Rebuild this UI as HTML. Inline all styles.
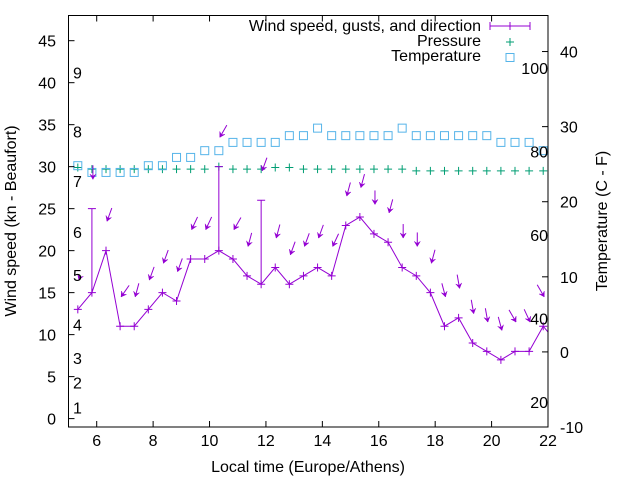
<!DOCTYPE html>
<html><head><meta charset="utf-8"><style>
body{margin:0;background:#fff}
svg{display:block;font-family:"Liberation Sans",sans-serif}
</style></head><body>
<svg id="chart" width="640" height="480" viewBox="0 0 640 480" xmlns="http://www.w3.org/2000/svg">
<rect width="640" height="480" fill="#fff"/>
<g id="g-grid"></g>
<g id="g-data"></g>
<rect x="68.5" y="15.5" width="479.5" height="411.5" fill="none" stroke="#000" stroke-width="1"/>
<g id="g-axes" font-size="16" fill="#000"></g>
<text x="16" y="221" font-size="16" text-anchor="middle" transform="rotate(-90 16 221)">Wind speed (kn - Beaufort)</text>
<text x="607" y="221" font-size="16" text-anchor="middle" transform="rotate(-90 607 221)">Temperature (C - F)</text>
<text x="308" y="472" font-size="16" text-anchor="middle">Local time (Europe/Athens)</text>
<g id="legend" font-size="16">
 <text x="481" y="31" text-anchor="end">Wind speed, gusts, and direction</text>
 <g stroke="#9400d3"><line x1="490" y1="26" x2="530" y2="26"/><line x1="490" y1="22" x2="490" y2="30"/><line x1="530" y1="22" x2="530" y2="30"/><line x1="510" y1="22" x2="510" y2="30"/></g>
 <text x="481" y="46" text-anchor="end">Pressure</text>
 <g stroke="#009e73"><line x1="506" y1="42" x2="514" y2="42"/><line x1="510" y1="38" x2="510" y2="46"/></g>
 <text x="481" y="61" text-anchor="end">Temperature</text>
 <rect x="506" y="53.5" width="8" height="8" fill="none" stroke="#56b4e9"/>
</g>
</svg>
<script>
const times=[5.33,5.83,6.33,6.83,7.33,7.83,8.33,8.83,9.33,9.83,10.33,10.83,11.33,11.83,12.33,12.83,13.33,13.83,14.33,14.83,15.33,15.83,16.33,16.83,17.33,17.83,18.33,18.83,19.33,19.83,20.33,20.83,21.33,21.83];
const windSpeed=[13,15,20,11,11,13,15,14,19,19,20,19,17,16,18,16,17,18,17,23,24,22,21,18,17,15,11,12,9,8,7,8,8,11];
const windGust=[13,25,20,11,11,13,15,14,19,19,30,19,17,26,18,16,17,18,17,23,24,22,21,18,17,15,11,12,9,8,7,8,8,11];
const windDir=[20,0,20,35,15,20,20,20,25,25,30,30,15,20,15,20,20,20,25,15,15,0,15,0,0,15,345,350,350,350,345,330,335,330];
const pressure=[29.9,29.7,29.7,29.7,29.7,29.7,29.7,29.7,29.7,29.7,30.0,29.7,29.7,29.7,29.9,29.9,29.7,29.7,29.7,29.7,29.7,29.7,29.7,29.7,29.5,29.5,29.5,29.5,29.5,29.5,29.5,29.5,29.5,29.5];
const temperature=[24.8,23.9,23.9,23.9,23.9,24.8,24.8,25.9,25.9,26.8,26.8,27.9,27.9,27.9,27.9,28.8,28.8,29.8,28.8,28.8,28.8,28.8,28.8,29.8,28.8,28.8,28.8,28.8,28.8,28.8,27.9,27.9,27.9,26.8];
const xTicks=[6,8,10,12,14,16,18,20,22];
const yTicks=[0,5,10,15,20,25,30,35,40,45];
const y2Ticks=[-10,0,10,20,30,40];
const fTicks=[20,40,60,80,100];
const beaufortLabels=["1","2","3","4","5","6","7","8","9"];
const beaufortPos=[1.3,4.3,7.2,11.2,17.1,22.2,28.3,34.2,41.2];

const X0=68.5,X1=548,Y0=427,Y1=15.5;
const xS=t=>X0+(t-5)/(22-5)*(X1-X0);
const yS=v=>Y0-(v+1)/(48-(-1))*(Y0-Y1);
const y2S=c=>Y0-(c+10)/(44.8+10)*(Y0-Y1);
const NS="http://www.w3.org/2000/svg";
function mk(tag,attrs,parent){const e=document.createElementNS(NS,tag);for(const k in attrs)e.setAttribute(k,attrs[k]);parent.appendChild(e);return e;}
const ax=document.getElementById('g-axes'),dg=document.getElementById('g-data');

xTicks.forEach(t=>{const x=xS(t);
 let l=mk('line',{x1:x,y1:Y0,x2:x,y2:Y0-6,stroke:'#000'},ax);
 
 
 l=mk('line',{x1:x,y1:Y1,x2:x,y2:Y1+6,stroke:'#000'},ax);
 
 
 const tx=mk('text',{x:x,y:446,'text-anchor':'middle'},ax);tx.textContent=t;
 
 
});
yTicks.forEach(v=>{const y=yS(v);
 const l=mk('line',{x1:X0,y1:y,x2:X0+6,y2:y,stroke:'#000'},ax);
 
 
 const tx=mk('text',{x:56,y:y+6,'text-anchor':'end'},ax);tx.textContent=v;
 
 
});
y2Ticks.forEach(v=>{const y=y2S(v);
 const l=mk('line',{x1:X1,y1:y,x2:X1-6,y2:y,stroke:'#000'},ax);
 
 
 const tx=mk('text',{x:560,y:y+6,'text-anchor':'start'},ax);tx.textContent=v;
 
 
});
fTicks.forEach(f=>{const y=y2S((f-32)*5/9);
 const tx=mk('text',{x:548,y:y+6,'text-anchor':'end'},ax);tx.textContent=f;
 
 
});
beaufortLabels.forEach((b,i)=>{const y=yS(beaufortPos[i]);
 const tx=mk('text',{x:73,y:y+6},ax);tx.textContent=b;
 
 
});

pressure.forEach((p,i)=>{const x=xS(times[i]),y=yS(p);
 const g=mk('path',{d:`M${x-4} ${y}H${x+4}M${x} ${y-4}V${y+4}`,stroke:'#009e73','stroke-width':1},dg);
 
 
});
temperature.forEach((c,i)=>{const x=xS(times[i]),y=y2S(c);
 const r=mk('rect',{x:x-4,y:y-4,width:8,height:8,fill:'none',stroke:'#56b4e9'},dg);
 
 
});
const line=mk('polyline',{points:times.map((t,i)=>xS(t)+','+yS(windSpeed[i])).join(' ')+' '+X1+','+yS(10.3),fill:'none',stroke:'#9400d3'},dg);


times.forEach((t,i)=>{const x=xS(t),y=yS(windSpeed[i]);
 const p=mk('path',{d:`M${x-4} ${y}H${x+4}M${x} ${y-4}V${y+4}`,stroke:'#9400d3'},dg);
 
 
 if(windGust[i]>windSpeed[i]){const yg=yS(windGust[i]);
  const e=mk('path',{d:`M${x} ${y}V${yg}M${x-4} ${yg}H${x+4}`,stroke:'#9400d3'},dg);
  
  
 }
 const hy=yS(windGust[i]+3.5),hx=x+1;
 const d=windDir[i]*Math.PI/180,L=i===0?4:14;
 const sx=Math.sin(d),sy=-Math.cos(d);
 const tx=hx+sx*L,ty=hy+sy*L;
 const a=mk('g',{},dg);
 
 
 mk('line',{x1:tx,y1:ty,x2:hx,y2:hy,stroke:'#9400d3'},a);
 const px=-sy,py=sx,b=5,w=3;
 mk('polygon',{points:`${hx},${hy} ${hx+sx*b+px*w},${hy+sy*b+py*w} ${hx+sx*b*0.6},${hy+sy*b*0.6} ${hx+sx*b-px*w},${hy+sy*b-py*w}`,fill:'#9400d3',stroke:'#9400d3','stroke-width':0.5},a);
});
</script>
</body></html>
